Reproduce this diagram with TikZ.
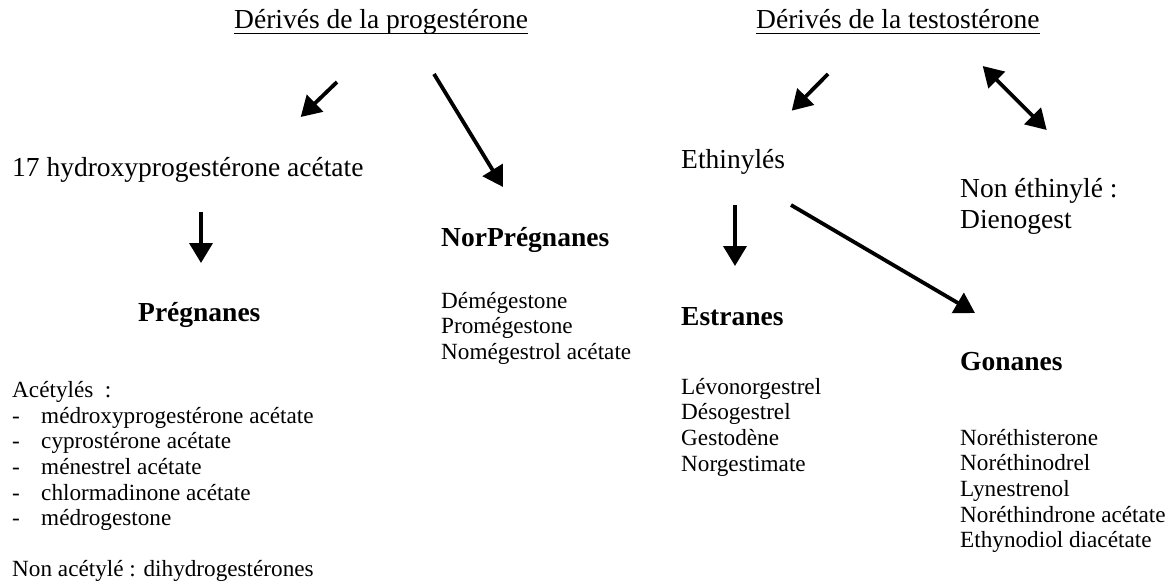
\documentclass[tikz,border=0pt]{standalone}
\usepackage{fontspec}
\setmainfont{Liberation Serif}
\usetikzlibrary{arrows.meta}
\begin{document}
\begin{tikzpicture}[x=1pt,y=-1pt,
  big/.style={font=\fontsize{27.5}{30}\selectfont, anchor=base west, inner sep=0pt},
  hdr/.style={font=\fontsize{27.5}{30}\selectfont\bfseries, anchor=base west, inner sep=0pt},
  small/.style={font=\fontsize{23.2}{25.7}\selectfont, anchor=base west, inner sep=0pt},
  uline/.style={line width=1.3pt},
  arr/.style={line width=3.8pt, -{Triangle[length=20pt,width=23pt]}},
  darr/.style={line width=3.8pt, {Triangle[length=20pt,width=23pt]}-{Triangle[length=20pt,width=23pt]}}]
\useasboundingbox (0,0) rectangle (1171,583);
% titles
\node[big] (t1) at (234,29) {Dérivés de la progestérone};
\node[big] (t2) at (756,29) {Dérivés de la testostérone};
\draw[uline] ([yshift=-4.5pt]t1.base west) -- ([yshift=-4.5pt]t1.base east);
\draw[uline] ([yshift=-4.5pt]t2.base west) -- ([yshift=-4.5pt]t2.base east);
% left branch
\node[big] (hydro) at (12,177) {17 hydroxyprogestérone acétate};
\node[hdr] (preg) at (138,321) {Prégnanes};
\node[hdr] (norpreg) at (441,247) {NorPrégnanes};
\node[small] (np1) at (441,308) {Démégestone};
\node[small] (np2) at (441,333.7) {Promégestone};
\node[small] (np3) at (441,359.4) {Nomégestrol acétate};
\node[small] (acet) at (12,397) {Acétylés\ \ :};
\foreach \t [count=\i from 0] in {médroxyprogestérone acétate,cyprostérone acétate,ménestrel acétate,chlormadinone acétate,médrogestone}{
  \node[small] (d\i) at (12,423+\i*25.7) {-};
  \node[small] (p\i) at (41,423+\i*25.7) {\t};
}
\node[small] (nonacet) at (12,576) {Non acétylé : dihydrogestérones};
% right branch
\node[big] (ethi) at (681,169) {Ethinylés};
\node[big] (nonethi) at (960,197) {Non éthinylé :};
\node[big] (dieno) at (960,229) {Dienogest};
\node[hdr] (estr) at (681,325) {Estranes};
\node[hdr] (gon) at (960,370) {Gonanes};
\foreach \t [count=\i from 0] in {Lévonorgestrel,Désogestrel,Gestodène,Norgestimate}{
  \node[small] (e\i) at (681,394+\i*25.7) {\t};
}
\foreach \t [count=\i from 0] in {Noréthisterone,Noréthinodrel,Lynestrenol,Noréthindrone acétate,Ethynodiol diacétate}{
  \node[small] (g\i) at (960,445+\i*25.7) {\t};
}
% arrow end points
\coordinate (a1s) at (337,82);   \coordinate (a1e) at (300.7,117);
\coordinate (a2s) at (434,74);   \coordinate (a2e) at (503,187);
\coordinate (a3s) at (201,212);  \coordinate (a3e) at (201,263);
\coordinate (a4s) at (828,74);   \coordinate (a4e) at (791.7,110.7);
\coordinate (a5s) at (982.7,66); \coordinate (a5e) at (1046.7,130);
\coordinate (a6s) at (735,205);  \coordinate (a6e) at (735,266);
\coordinate (a7s) at (791,205);  \coordinate (a7e) at (975,313);
\draw[arr] (a1s) -- (a1e);
\draw[arr] (a2s) -- (a2e);
\draw[arr] (a3s) -- (a3e);
\draw[arr] (a4s) -- (a4e);
\draw[darr] (a5s) -- (a5e);
\draw[arr] (a6s) -- (a6e);
\draw[arr] (a7s) -- (a7e);
\end{tikzpicture}
\end{document}
